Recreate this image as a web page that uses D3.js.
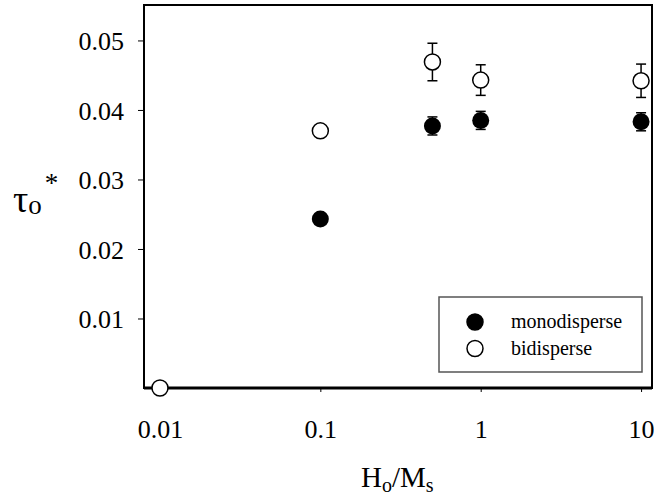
<!DOCTYPE html>
<html>
<head>
<meta charset="utf-8">
<script src="https://cdn.jsdelivr.net/npm/d3@7"></script>
<style>
  body { margin: 0; background: #fff; }
  svg { display: block; }
  text { font-family: "Liberation Serif", "Times New Roman", serif; }
</style>
</head>
<body>
<div id="main"></div>
<script>
// values
const xTicks = [0.01, 0.1, 1, 10];
const xTickLabels = ['0.01', '0.1', '1', '10'];
const yTicks = [0.01, 0.02, 0.03, 0.04, 0.05];

const monoX = [0.1, 0.5, 1, 10];
const monoY = [0.0243, 0.0377, 0.0385, 0.0383];
const monoErr = [0, 0.0013, 0.0013, 0.0013];

const biX = [0.01, 0.1, 0.5, 1, 10];
const biY = [0, 0.0370, 0.0469, 0.0443, 0.0442];
const biErr = [0, 0, 0.0027, 0.0022, 0.0024];

const seriesNames = ['monodisperse', 'bidisperse'];

const w = 654;
const h = 498;
const padL = 144, padR = 652, padT = 5, padB = 388;
const serif = '"Liberation Serif", "Times New Roman", serif';

const svg = d3.select('#main')
    .append('svg')
    .attr('width', w)
    .attr('height', h);

const x = d3.scaleLog()
    .domain([0.00795, 11.7])
    .range([padL, padR]);

const y = d3.scaleLinear()
    .domain([0, 0.0551])
    .range([padB, padT]);

// frame
svg.append('rect')
    .attr('x', padL)
    .attr('y', padT)
    .attr('width', padR - padL)
    .attr('height', padB - padT)
    .attr('fill', 'none')
    .attr('stroke', '#000')
    .attr('stroke-width', 2);

svg.append('line')
    .attr('x1', padL).attr('x2', padR)
    .attr('y1', padB).attr('y2', padB)
    .attr('stroke', '#000')
    .attr('stroke-width', 3);

// axes
const xAxis = svg.append('g')
    .attr('transform', `translate(0, ${padB})`)
    .call(d3.axisBottom(x).tickValues(xTicks).tickSize(4).tickPadding(28)
        .tickFormat((d, i) => xTickLabels[i]));

const yAxis = svg.append('g')
    .attr('transform', `translate(${padL}, 0)`)
    .call(d3.axisLeft(y).tickValues(yTicks).tickSize(6).tickPadding(14)
        .tickFormat(d3.format('.2f')));

[xAxis, yAxis].forEach(a => {
    a.attr('font-family', serif);
    a.select('.domain').remove();
    a.selectAll('line').attr('stroke', '#000').attr('stroke-width', 1);
    a.selectAll('text')
        .attr('fill', '#000')
        .style('font-size', '26px')
        .style('font-family', serif);
});
yAxis.selectAll('text').attr('dy', '0.35em');
xAxis.selectAll('text').attr('dy', '0.71em');

// error bars
const capW = 5;
function errorBars(xs, ys, es) {
    const g = svg.append('g').attr('stroke', '#000').attr('stroke-width', 1.5);
    xs.forEach((xv, i) => {
        if (!es[i]) return;
        const cx = x(xv);
        const y1 = y(ys[i] + es[i]), y2 = y(ys[i] - es[i]);
        g.append('line').attr('x1', cx).attr('x2', cx).attr('y1', y1).attr('y2', y2);
        g.append('line').attr('x1', cx - capW).attr('x2', cx + capW).attr('y1', y1).attr('y2', y1);
        g.append('line').attr('x1', cx - capW).attr('x2', cx + capW).attr('y1', y2).attr('y2', y2);
    });
}
errorBars(biX, biY, biErr);
errorBars(monoX, monoY, monoErr);

svg.append('g')
    .selectAll('circle')
    .data(monoX)
    .enter()
    .append('circle')
    .attr('cx', d => x(d))
    .attr('cy', (d, i) => y(monoY[i]))
    .attr('r', 8.5)
    .attr('fill', '#000');

svg.append('g')
    .selectAll('circle')
    .data(biX)
    .enter()
    .append('circle')
    .attr('cx', d => x(d))
    .attr('cy', (d, i) => y(biY[i]))
    .attr('r', 8)
    .attr('fill', '#fff')
    .attr('stroke', '#000')
    .attr('stroke-width', 1.5);

// legend
const legend = svg.append('g');
legend.append('rect')
    .attr('x', 439)
    .attr('y', 297)
    .attr('width', 203)
    .attr('height', 75)
    .attr('fill', '#fff')
    .attr('stroke', '#555')
    .attr('stroke-width', 1.5);

legend.selectAll('circle')
    .data(seriesNames)
    .enter()
    .append('circle')
    .attr('cx', 475)
    .attr('cy', (d, i) => 322 + i * 26.5)
    .attr('r', 8)
    .attr('fill', (d, i) => i === 0 ? '#000' : '#fff')
    .attr('stroke', '#000')
    .attr('stroke-width', 1.5);

legend.selectAll('text')
    .data(seriesNames)
    .enter()
    .append('text')
    .attr('x', 511)
    .attr('y', (d, i) => 328 + i * 26.5)
    .style('font-family', serif)
    .style('font-size', '20px')
    .text(d => d);

// axis titles
const xt = svg.append('text')
    .attr('x', 361)
    .attr('y', 487)
    .style('font-family', serif)
    .style('font-size', '29px');
xt.append('tspan').text('H');
xt.append('tspan').attr('dy', 5).style('font-size', '20px').text('o');
xt.append('tspan').attr('dy', -5).text('/M');
xt.append('tspan').attr('dy', 5).style('font-size', '20px').text('s');

const yt = svg.append('text')
    .attr('x', 13)
    .attr('y', 212)
    .style('font-family', serif)
    .style('font-size', '38px');
yt.append('tspan').text('τ');
yt.append('tspan').attr('dy', 2).style('font-size', '27px').text('o');
yt.append('tspan').attr('dx', 3).attr('dy', -22).style('font-size', '27px').text('*');
</script>
</body>
</html>
